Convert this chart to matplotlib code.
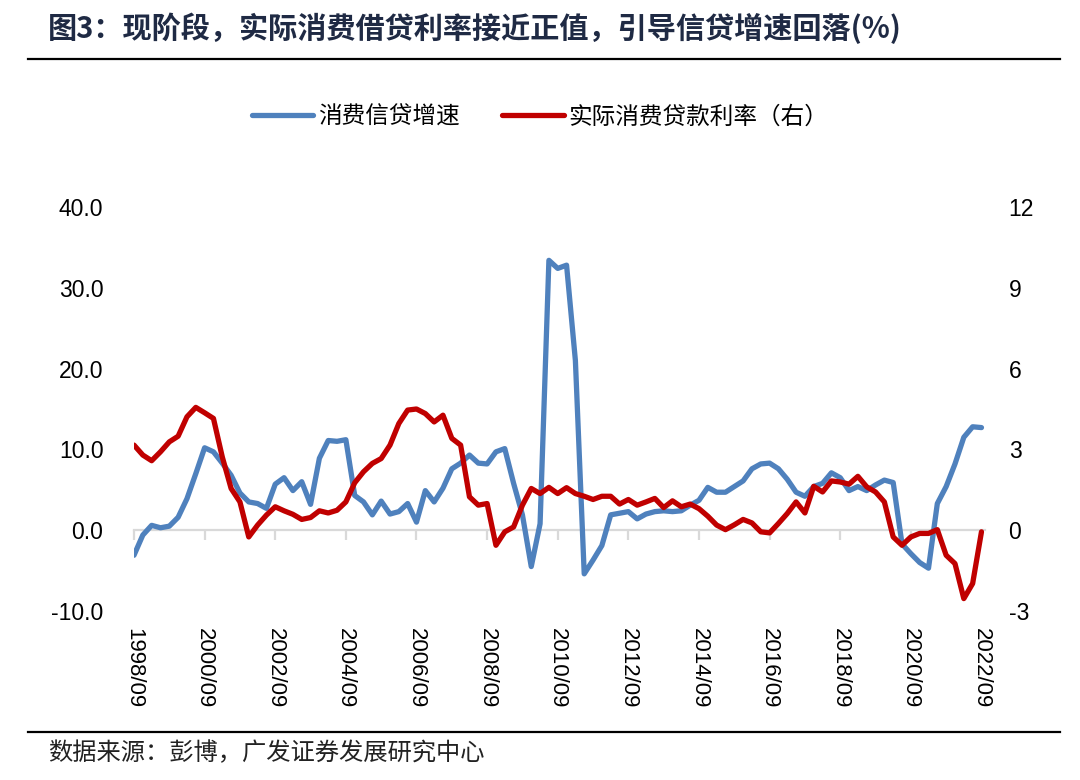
import matplotlib
matplotlib.use("Agg")
import matplotlib.pyplot as plt
from matplotlib.lines import Line2D
import numpy as np

plt.rcParams['font.family'] = ['Liberation Sans', 'Noto Sans CJK SC', 'DejaVu Sans']

# Quarterly data, 1998/09 .. 2022/09
tick_labels = ['1998/09', '2000/09', '2002/09', '2004/09', '2006/09', '2008/09', '2010/09',
               '2012/09', '2014/09', '2016/09', '2018/09', '2020/09', '2022/09']

credit_growth = [
    -3.1, -0.6, 0.6, 0.3, 0.5, 1.6, 3.9, 7.0, 10.2, 9.7,
    8.3, 6.8, 4.6, 3.5, 3.3, 2.7, 5.7, 6.5, 4.9, 6.0,
    3.2, 8.9, 11.1, 11.0, 11.2, 4.3, 3.5, 1.9, 3.6, 2.0,
    2.3, 3.3, 1.0, 4.9, 3.5, 5.2, 7.6, 8.3, 9.3, 8.3,
    8.2, 9.7, 10.1, 5.8, 1.9, -4.5, 0.8, 33.4, 32.4, 32.8,
    21.0, -5.4, -3.7, -1.9, 1.9, 2.1, 2.3, 1.4, 2.0, 2.3,
    2.4, 2.3, 2.4, 3.1, 3.7, 5.3, 4.7, 4.7, 5.4, 6.1,
    7.6, 8.2, 8.3, 7.6, 6.3, 4.7, 4.2, 5.4, 5.8, 7.1,
    6.5, 4.9, 5.4, 4.9, 5.6, 6.2, 5.9, -1.7, -2.9, -4.0,
    -4.7, 3.3, 5.4, 8.2, 11.5, 12.8, 12.7,
]

real_rate = [
    3.16, 2.79, 2.58, 2.91, 3.28, 3.49, 4.21, 4.56, 4.36, 4.15,
    2.72, 1.55, 1.05, -0.25, 0.19, 0.56, 0.87, 0.72, 0.59, 0.40,
    0.47, 0.72, 0.64, 0.74, 1.05, 1.76, 2.17, 2.48, 2.66, 3.16,
    3.96, 4.46, 4.50, 4.33, 4.02, 4.27, 3.41, 3.16, 1.24, 0.93,
    0.99, -0.56, -0.06, 0.12, 0.93, 1.55, 1.36, 1.59, 1.36, 1.58,
    1.36, 1.26, 1.14, 1.26, 1.26, 0.97, 1.14, 0.93, 1.05, 1.18,
    0.84, 1.09, 0.87, 0.97, 0.80, 0.52, 0.19, 0.02, 0.20, 0.40,
    0.27, -0.06, -0.10, 0.25, 0.62, 1.05, 0.64, 1.63, 1.42, 1.83,
    1.79, 1.71, 2.00, 1.61, 1.42, 1.05, -0.25, -0.56, -0.25, -0.12,
    -0.12, 0.02, -0.93, -1.24, -2.54, -1.98, -0.06,
]

name_blue = '消费信贷增速'
name_red = '实际消费贷款利率（右）'
title = '图3：现阶段，实际消费借贷利率接近正值，引导信贷增速回落(%)'
source = '数据来源：彭博，广发证券发展研究中心'

BLUE = '#4F81BD'
RED = '#C00000'
GRAY = '#D9D9D9'

fig = plt.figure(figsize=(10.8, 7.8), dpi=100)
left, right = 134 / 1080, 985 / 1080
bottom, top = 1 - 611 / 780, 1 - 207 / 780
ax = fig.add_axes([left, bottom, right - left, top - bottom])
ax2 = ax.twinx()

x = np.arange(len(credit_growth))
l1, = ax.plot(x, credit_growth, color=BLUE, lw=3.8, solid_joinstyle='round',
              solid_capstyle='round', label=name_blue, zorder=3)
l2, = ax2.plot(np.arange(len(real_rate)), real_rate, color=RED, lw=3.8,
               solid_joinstyle='round', solid_capstyle='round', label=name_red, zorder=3)

ax.set_xlim(0, 96.4)
ax.set_ylim(-10, 40)
ax2.set_ylim(-3, 12)
ax.set_yticks([-10, 0, 10, 20, 30, 40])
ax.set_yticklabels([f'{v:.1f}' for v in [-10, 0, 10, 20, 30, 40]])
ax2.set_yticks([-3, 0, 3, 6, 9, 12])
ax2.set_yticklabels([str(v) for v in [-3, 0, 3, 6, 9, 12]])

for a in (ax, ax2):
    for s in ['top', 'left', 'right']:
        a.spines[s].set_visible(False)
ax2.spines['bottom'].set_visible(False)

ax.spines['bottom'].set_position(('data', 0))
ax.spines['bottom'].set_color(GRAY)
ax.spines['bottom'].set_linewidth(1.6)
ax.spines['bottom'].set_zorder(1)
ax.set_xticks(np.arange(0, 97, 8))
ax.tick_params(axis='x', direction='out', length=7, width=1.6, color=GRAY,
               labelbottom=False)

sec = ax.secondary_xaxis('bottom')
sec.set_xticks(np.arange(0, 97, 8))
sec.set_xticklabels(tick_labels, rotation=270, fontsize=16)
sec.tick_params(length=0, pad=12)
sec.spines['bottom'].set_visible(False)

ax.tick_params(axis='y', length=0, labelsize=16.5, pad=22)
ax2.tick_params(axis='y', length=0, labelsize=16.5, pad=17)

fig.legend(handles=[l1, l2], loc='center', bbox_to_anchor=(0.5, 1 - 117 / 780),
           ncol=2, frameon=False, handlelength=2.6, handletextpad=0.2,
           columnspacing=1.8, prop={'family': ['Noto Sans CJK SC'], 'size': 17})

fig.text(48 / 1080, 1 - 28 / 780, title, fontsize=21, fontweight='bold',
         color='#1F2A44', va='center', ha='left',
         family=['Noto Sans CJK SC', 'DejaVu Sans'])
fig.add_artist(Line2D([28 / 1080, 1060 / 1080], [1 - 59 / 780] * 2, color='black', lw=1.6))
fig.add_artist(Line2D([28 / 1080, 1060 / 1080], [1 - 732 / 780] * 2, color='black', lw=1.6))
fig.text(48 / 1080, 1 - 753 / 780, source, fontsize=17.5, color='#222222',
         va='center', ha='left', family=['Noto Sans CJK SC', 'DejaVu Sans'])

fig.savefig('out.png', dpi=100)
